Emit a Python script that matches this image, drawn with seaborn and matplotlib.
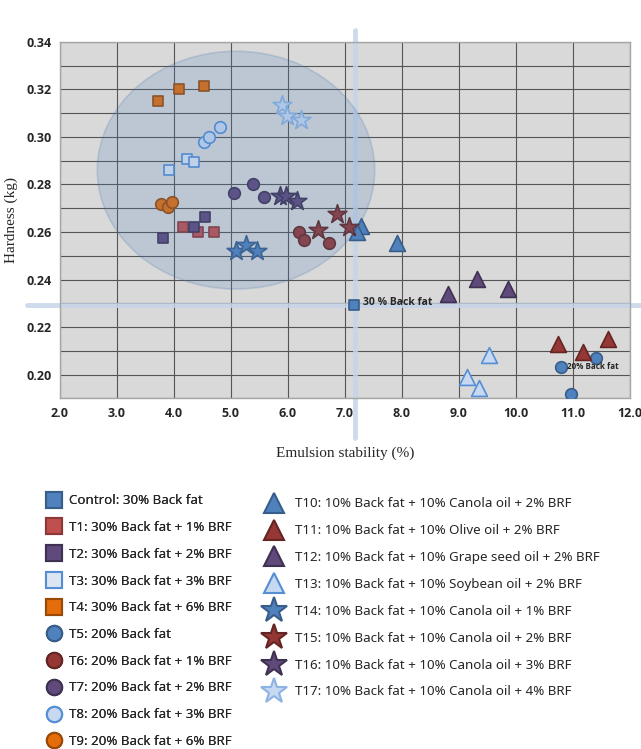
import numpy as np
import pandas as pd
import seaborn as sns
import matplotlib.pyplot as plt
from matplotlib.patches import Ellipse
from matplotlib.lines import Line2D

# treatment groups (3 replicates each)
groups = ["Control", "T1", "T2", "T3", "T4", "T5", "T6", "T7", "T8", "T9",
          "T10", "T11", "T12", "T13", "T14", "T15", "T16", "T17"]
labels = ["Control: 30% Back fat",
          "T1: 30% Back fat + 1% BRF",
          "T2: 30% Back fat + 2% BRF",
          "T3: 30% Back fat + 3% BRF",
          "T4: 30% Back fat + 6% BRF",
          "T5: 20% Back fat",
          "T6: 20% Back fat + 1% BRF",
          "T7: 20% Back fat + 2% BRF",
          "T8: 20% Back fat + 3% BRF",
          "T9: 20% Back fat + 6% BRF",
          "T10: 10% Back fat + 10% Canola oil + 2% BRF",
          "T11: 10% Back fat + 10% Olive oil + 2% BRF",
          "T12: 10% Back fat + 10% Grape seed oil + 2% BRF",
          "T13: 10% Back fat + 10% Soybean oil + 2% BRF",
          "T14: 10% Back fat + 10% Canola oil + 1% BRF",
          "T15: 10% Back fat + 10% Canola oil + 2% BRF",
          "T16: 10% Back fat + 10% Canola oil + 3% BRF",
          "T17: 10% Back fat + 10% Canola oil + 4% BRF"]

# emulsion stability (%)
es = {
    "Control": [7.16],
    "T1": [4.16, 4.43, 4.70],
    "T2": [3.81, 4.36, 4.54],
    "T3": [3.91, 4.23, 4.35],
    "T4": [3.72, 4.09, 4.52],
    "T5": [10.79, 11.41, 10.98],
    "T6": [6.20, 6.28, 6.72],
    "T7": [5.05, 5.39, 5.58],
    "T8": [4.52, 4.62, 4.81],
    "T9": [3.78, 3.90, 3.97],
    "T10": [7.28, 7.22, 7.92],
    "T11": [10.74, 11.18, 11.63],
    "T12": [8.81, 9.33, 9.86],
    "T13": [9.53, 9.15, 9.35],
    "T14": [5.09, 5.26, 5.46],
    "T15": [6.53, 6.87, 7.07],
    "T16": [5.86, 5.96, 6.16],
    "T17": [5.89, 5.98, 6.24],
}
# hardness (kg)
hardness = {
    "Control": [0.2292],
    "T1": [0.2619, 0.2602, 0.2598],
    "T2": [0.2574, 0.2619, 0.2661],
    "T3": [0.2859, 0.2905, 0.2894],
    "T4": [0.3150, 0.3202, 0.3212],
    "T5": [0.2034, 0.2069, 0.1919],
    "T6": [0.2600, 0.2565, 0.2554],
    "T7": [0.2766, 0.2800, 0.2745],
    "T8": [0.2978, 0.3000, 0.3042],
    "T9": [0.2718, 0.2704, 0.2725],
    "T10": [0.2626, 0.2598, 0.2554],
    "T11": [0.2128, 0.2095, 0.2150],
    "T12": [0.2340, 0.2404, 0.2359],
    "T13": [0.2084, 0.1990, 0.1945],
    "T14": [0.2519, 0.2544, 0.2519],
    "T15": [0.2610, 0.2674, 0.2621],
    "T16": [0.2752, 0.2752, 0.2730],
    "T17": [0.3135, 0.3087, 0.3070],
}

markers = ["s"] * 5 + ["o"] * 5 + ["^"] * 4 + ["*"] * 4
faces = ["#4f81bd", "#c0504d", "#604a7b", "#dce6f2", "#e46c0a",
         "#4f81bd", "#953735", "#604a7b", "#c6d9f1", "#e46c0a",
         "#4f81bd", "#953735", "#604a7b", "#c6d9f1",
         "#4f81bd", "#953735", "#604a7b", "#c6d9f1"]
edges = ["#385d8a", "#8c3836", "#3f3151", "#558ed5", "#984807",
         "#385d8a", "#632523", "#3f3151", "#558ed5", "#984807",
         "#385d8a", "#632523", "#3f3151", "#558ed5",
         "#385d8a", "#632523", "#3f3151", "#8db3e2"]
sizes = {"s": 60, "o": 70, "^": 130, "*": 200}

rows = []
for g in groups:
    for x, y in zip(es[g], hardness[g]):
        rows.append({"group": g, "es": x, "hardness": y})
df = pd.DataFrame(rows)

sns.set_style("white")
plt.rcParams['font.family'] = ['Noto Sans', 'DejaVu Sans']

fig = plt.figure(figsize=(6.41, 7.49), dpi=100)
ax = fig.add_axes([0.0936, 0.468, 0.8885, 0.4763])
ax.set_facecolor("#d9d9d9")

for i, g in enumerate(groups):
    sub = df[df["group"] == g]
    sns.scatterplot(data=sub, x="es", y="hardness", marker=markers[i], color=faces[i],
                    edgecolor=edges[i], linewidth=1.2, s=sizes[markers[i]], ax=ax,
                    zorder=3, legend=False)

# cluster ellipse
ell = Ellipse((5.09, 0.286), 4.87, 0.100, facecolor="#4f81bd", alpha=0.2,
              edgecolor="#3c6ea8", linewidth=1.2, zorder=4)
ax.add_patch(ell)

# reference lines through the control
ax.axvline(7.175, ymin=-0.11, ymax=1.033, color="#c5d5ea", lw=3.5, alpha=0.85,
           clip_on=False, zorder=2)
ax.axhline(0.2291, xmin=-0.058, xmax=1.03, color="#c5d5ea", lw=3.5, alpha=0.85,
           clip_on=False, zorder=2)

ax.text(7.32, 0.2305, "30 % Back fat", fontsize=7.5, fontweight="bold",
        family=["Open Sans", "DejaVu Sans"], va="center", zorder=5)
ax.text(10.9, 0.2034, "20% Back fat", fontsize=5.8, fontweight="bold",
        family=["Open Sans", "DejaVu Sans"], va="center", zorder=5)

ax.set_xlim(2.0, 12.0)
ax.set_ylim(0.19, 0.34)
xt = np.arange(2, 12.01, 1.0)
yt = np.arange(0.20, 0.341, 0.02)
tick_font = dict(fontweight="bold", family=["Open Sans", "DejaVu Sans"], fontsize=9)
ax.set_xticks(xt)
ax.set_xticklabels([f"{v:.1f}" for v in xt], **tick_font)
ax.set_yticks(yt)
ax.set_yticklabels([f"{v:.2f}" for v in yt], **tick_font)
ax.set_yticks(np.arange(0.19, 0.341, 0.01), minor=True)
ax.grid(True, which="major", color="#555555", lw=0.8)
ax.grid(True, which="minor", axis="y", color="#555555", lw=0.8)
ax.tick_params(axis="both", which="both", length=0, pad=6)
for sp in ax.spines.values():
    sp.set_color("#a6a6a6")
    sp.set_linewidth(1)

ax.set_xlabel("Emulsion stability (%)", fontsize=11, family="Liberation Serif", labelpad=19)
ax.set_ylabel("Hardness (kg)", fontsize=11, family="Liberation Serif", labelpad=6)

# legend
leg_ms = {"s": 11, "o": 11, "^": 15, "*": 19}
handles = [Line2D([], [], ls="none", marker=markers[i], markersize=leg_ms[markers[i]],
                  markerfacecolor=faces[i], markeredgecolor=edges[i], markeredgewidth=1.5)
           for i in range(len(groups))]
leg1 = fig.legend(handles[:10], labels[:10], loc="upper left", bbox_to_anchor=(0.073, 0.340),
                  frameon=False, fontsize=9.6, handlelength=1.05, handletextpad=0.65,
                  labelspacing=1.03, borderpad=0, borderaxespad=0)
fig.add_artist(leg1)
fig.legend(handles[10:], labels[10:], loc="upper left", bbox_to_anchor=(0.417, 0.336),
           frameon=False, fontsize=9.6, handlelength=1.05, handletextpad=1.05,
           labelspacing=1.04, borderpad=0, borderaxespad=0)

fig.savefig("out.png", dpi=100)
